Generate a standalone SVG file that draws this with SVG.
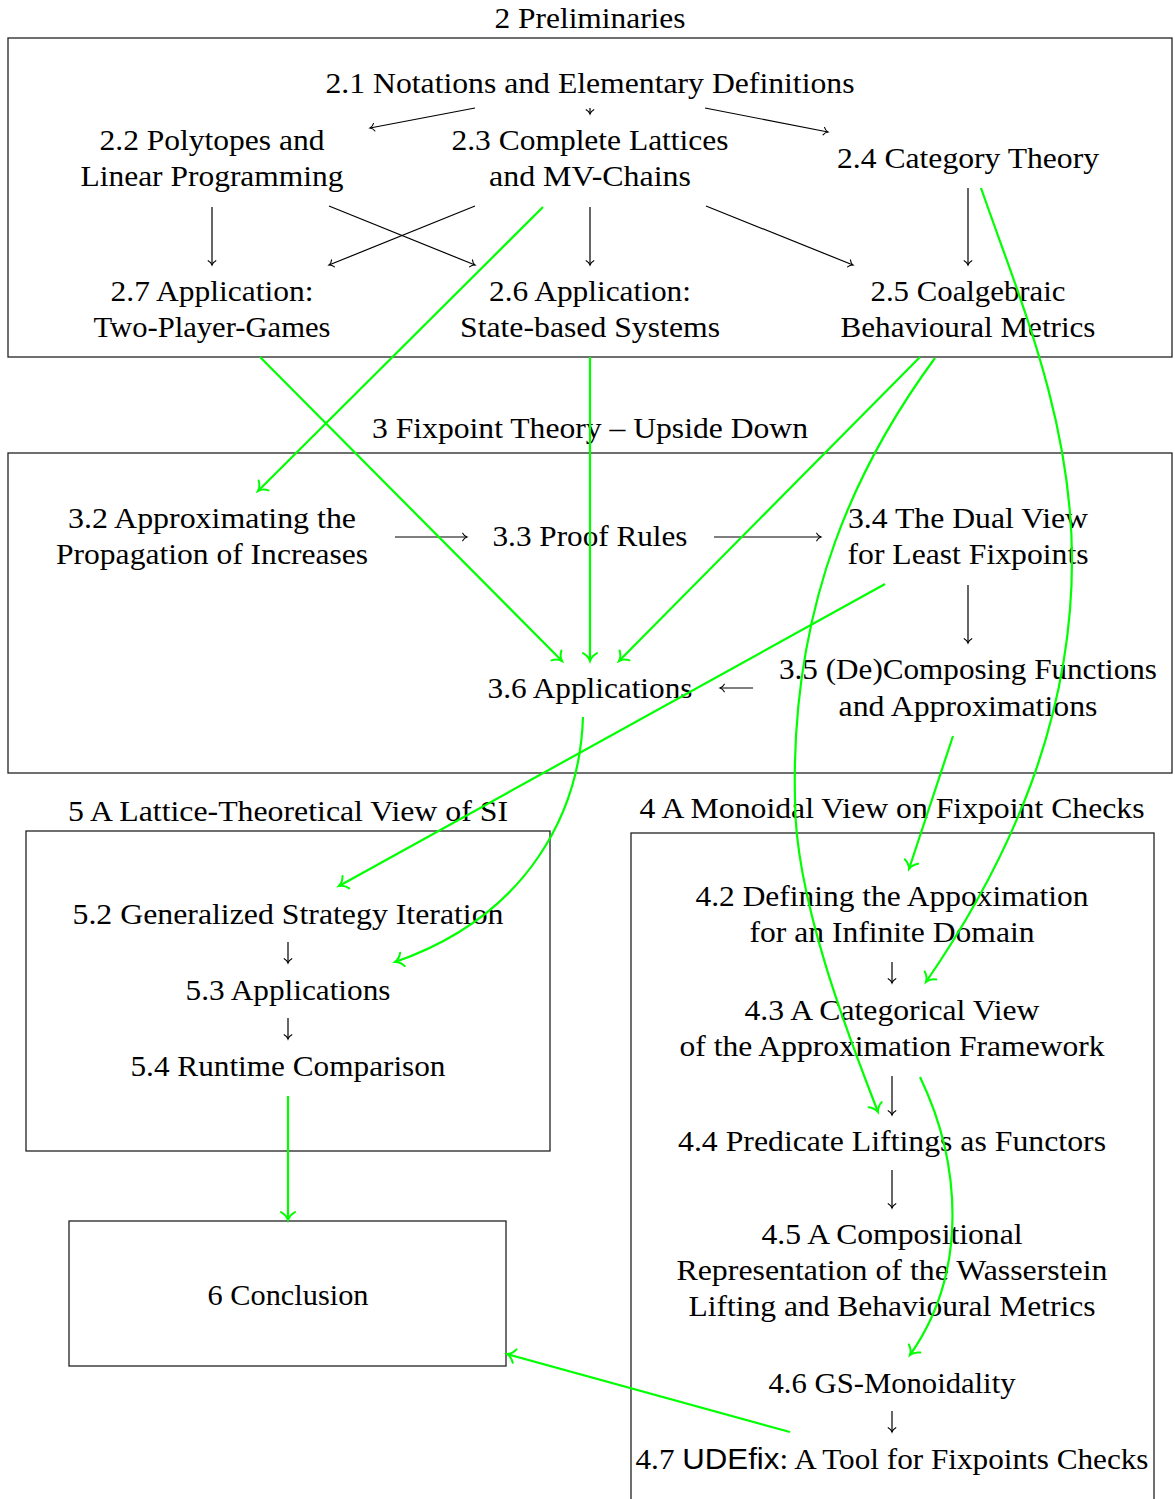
<svg xmlns="http://www.w3.org/2000/svg" width="1175" height="1499" viewBox="0 0 1175 1499">
<style>
text{font-family:"Liberation Serif","Times New Roman",serif;font-size:29px;fill:#000;text-anchor:middle}
.sans{font-family:"Liberation Sans",Arial,sans-serif}
.box{fill:none;stroke:#222;stroke-width:1.3}
.k{fill:none;stroke:#000;stroke-width:1.2;marker-end:url(#ak)}
.g{fill:none;stroke:#00ff00;stroke-width:2.2;marker-end:url(#ag)}
</style>
<defs>
<marker id="ak" viewBox="-5 -4 6 8" refX="0" refY="0" markerWidth="6" markerHeight="8" orient="auto" markerUnits="strokeWidth" overflow="visible">
<path d="M-3.6,-3.2 C-2.6,-1.3 -1.1,-0.35 0,0 C-1.1,0.35 -2.6,1.3 -3.6,3.2" fill="none" stroke="#000" stroke-width="0.9" stroke-linecap="round"/>
</marker>
<marker id="ag" viewBox="-5 -4 6 8" refX="0" refY="0" markerWidth="6" markerHeight="8" orient="auto" markerUnits="strokeWidth" overflow="visible">
<path d="M-3.6,-3.2 C-2.6,-1.3 -1.1,-0.35 0,0 C-1.1,0.35 -2.6,1.3 -3.6,3.2" fill="none" stroke="#00ff00" stroke-width="0.9" stroke-linecap="round"/>
</marker>
</defs>
<rect width="1175" height="1499" fill="#fff"/>

<g id="cluster2">
<text x="590" y="28" textLength="191" lengthAdjust="spacingAndGlyphs">2 Preliminaries</text>
<rect class="box" x="8" y="38" width="1164" height="319"/>
</g>
<g id="cluster3">
<text x="590" y="438" textLength="436" lengthAdjust="spacingAndGlyphs">3 Fixpoint Theory – Upside Down</text>
<rect class="box" x="8" y="453" width="1164" height="320"/>
</g>
<g id="cluster5">
<text x="288" y="821" textLength="440" lengthAdjust="spacingAndGlyphs">5 A Lattice-Theoretical View of SI</text>
<rect class="box" x="26" y="831" width="524" height="320"/>
</g>
<g id="cluster4">
<text x="892" y="818" textLength="505" lengthAdjust="spacingAndGlyphs">4 A Monoidal View on Fixpoint Checks</text>
<rect class="box" x="631" y="833" width="523" height="680"/>
</g>

<g id="n21"><text x="590" y="93" textLength="529" lengthAdjust="spacingAndGlyphs">2.1 Notations and Elementary Definitions</text></g>
<g id="n22"><text x="212" y="150" textLength="225" lengthAdjust="spacingAndGlyphs">2.2 Polytopes and</text><text x="212" y="186" textLength="263" lengthAdjust="spacingAndGlyphs">Linear Programming</text></g>
<g id="n23"><text x="590" y="150" textLength="277" lengthAdjust="spacingAndGlyphs">2.3 Complete Lattices</text><text x="590" y="186" textLength="202" lengthAdjust="spacingAndGlyphs">and MV-Chains</text></g>
<g id="n24"><text x="968" y="168" textLength="262" lengthAdjust="spacingAndGlyphs">2.4 Category Theory</text></g>
<g id="n27"><text x="212" y="301" textLength="203" lengthAdjust="spacingAndGlyphs">2.7 Application:</text><text x="212" y="337" textLength="237" lengthAdjust="spacingAndGlyphs">Two-Player-Games</text></g>
<g id="n26"><text x="590" y="301" textLength="202" lengthAdjust="spacingAndGlyphs">2.6 Application:</text><text x="590" y="337" textLength="260" lengthAdjust="spacingAndGlyphs">State-based Systems</text></g>
<g id="n25"><text x="968" y="301" textLength="195" lengthAdjust="spacingAndGlyphs">2.5 Coalgebraic</text><text x="968" y="337" textLength="255" lengthAdjust="spacingAndGlyphs">Behavioural Metrics</text></g>

<g id="n32"><text x="212" y="528" textLength="288" lengthAdjust="spacingAndGlyphs">3.2 Approximating the</text><text x="212" y="564" textLength="312" lengthAdjust="spacingAndGlyphs">Propagation of Increases</text></g>
<g id="n33"><text x="590" y="546" textLength="195" lengthAdjust="spacingAndGlyphs">3.3 Proof Rules</text></g>
<g id="n34"><text x="968" y="528" textLength="240" lengthAdjust="spacingAndGlyphs">3.4 The Dual View</text><text x="968" y="564" textLength="241" lengthAdjust="spacingAndGlyphs">for Least Fixpoints</text></g>
<g id="n36"><text x="590" y="698" textLength="205" lengthAdjust="spacingAndGlyphs">3.6 Applications</text></g>
<g id="n35"><text x="968" y="679" textLength="378" lengthAdjust="spacingAndGlyphs">3.5 (De)Composing Functions</text><text x="968" y="716" textLength="259" lengthAdjust="spacingAndGlyphs">and Approximations</text></g>

<g id="n52"><text x="288" y="924" textLength="431" lengthAdjust="spacingAndGlyphs">5.2 Generalized Strategy Iteration</text></g>
<g id="n53"><text x="288" y="1000" textLength="205" lengthAdjust="spacingAndGlyphs">5.3 Applications</text></g>
<g id="n54"><text x="288" y="1076" textLength="315" lengthAdjust="spacingAndGlyphs">5.4 Runtime Comparison</text></g>
<g id="n6"><rect class="box" x="69" y="1221" width="437" height="145"/><text x="288" y="1305" textLength="161" lengthAdjust="spacingAndGlyphs">6 Conclusion</text></g>

<g id="n42"><text x="892" y="906" textLength="393" lengthAdjust="spacingAndGlyphs">4.2 Defining the Appoximation</text><text x="892" y="942" textLength="285" lengthAdjust="spacingAndGlyphs">for an Infinite Domain</text></g>
<g id="n43"><text x="892" y="1020" textLength="295" lengthAdjust="spacingAndGlyphs">4.3 A Categorical View</text><text x="892" y="1056" textLength="425" lengthAdjust="spacingAndGlyphs">of the Approximation Framework</text></g>
<g id="n44"><text x="892" y="1151" textLength="428" lengthAdjust="spacingAndGlyphs">4.4 Predicate Liftings as Functors</text></g>
<g id="n45"><text x="892" y="1244" textLength="261" lengthAdjust="spacingAndGlyphs">4.5 A Compositional</text><text x="892" y="1280" textLength="431" lengthAdjust="spacingAndGlyphs">Representation of the Wasserstein</text><text x="892" y="1316" textLength="407" lengthAdjust="spacingAndGlyphs">Lifting and Behavioural Metrics</text></g>
<g id="n46"><text x="892" y="1393" textLength="247" lengthAdjust="spacingAndGlyphs">4.6 GS-Monoidality</text></g>
<g id="n47"><text x="892" y="1469" textLength="513" lengthAdjust="spacingAndGlyphs">4.7 <tspan class="sans">UDEfix</tspan>: A Tool for Fixpoints Checks</text></g>

<g id="connectors">
<path class="k" d="M475,108 L370,128"/>
<path class="k" d="M590,108 L590,114"/>
<path class="k" d="M705,108 L828,132"/>
<path class="k" d="M212,207 L212,265"/>
<path class="k" d="M329,206 L475,265"/>
<path class="k" d="M475,206 L329,265"/>
<path class="k" d="M590,207 L590,265"/>
<path class="k" d="M706,206 L853,265"/>
<path class="k" d="M968,188 L968,265"/>
<path class="k" d="M395,537 L467,537"/>
<path class="k" d="M714,537 L821,537"/>
<path class="k" d="M968,585 L968,643"/>
<path class="k" d="M753,688 L720,688"/>
<path class="k" d="M288,942 L288,963"/>
<path class="k" d="M288,1018 L288,1039"/>
<path class="k" d="M892,962 L892,983"/>
<path class="k" d="M892,1076 L892,1115"/>
<path class="k" d="M892,1170 L892,1208"/>
<path class="k" d="M892,1411 L892,1432"/>

<path class="g" d="M543,207 L258,491"/>
<path class="g" d="M260,357 L562,661"/>
<path class="g" d="M590,357 L590,661"/>
<path class="g" d="M920,357 L619,661"/>
<path class="g" d="M935,358 C860,460 790,600 795,800 C795,900 850,1040 878,1112"/>
<path class="g" d="M981,188 C1020,300 1072,420 1072,560 C1072,720 1010,860 926,982"/>
<path class="g" d="M885,584 L339,886"/>
<path class="g" d="M583,717 C580,810 530,915 395,962"/>
<path class="g" d="M953,736 L909,869"/>
<path class="g" d="M920,1077 C960,1160 970,1270 910,1355"/>
<path class="g" d="M288,1096 L288,1220"/>
<path class="g" d="M790,1432 L507,1354"/>
</g>
</svg>
